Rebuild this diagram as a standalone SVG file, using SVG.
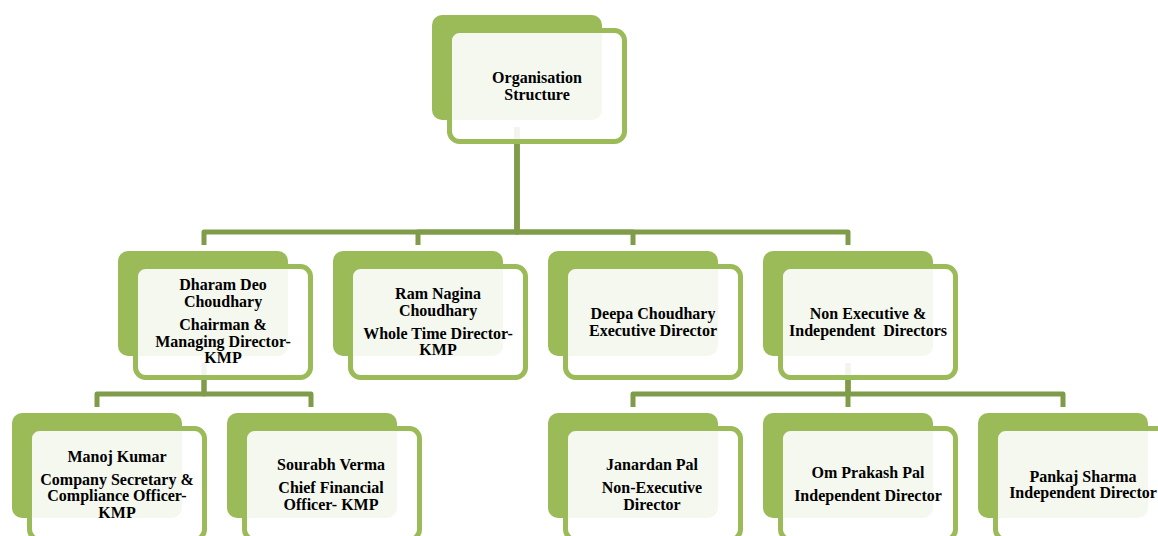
<svg xmlns="http://www.w3.org/2000/svg" width="1158" height="536" viewBox="0 0 1158 536">
<style>
.back{fill:#9bbb59}
.front{fill:#ffffff;fill-opacity:0.9;stroke:#9bbb59;stroke-width:5}
.conn{fill:none;stroke:#809c4a;stroke-width:5;stroke-linejoin:round}
text{font-family:"Liberation Serif","Times New Roman",serif;font-weight:bold;font-size:16px;fill:#000;text-anchor:middle;white-space:pre}
</style>
<rect width="1158" height="536" fill="#ffffff"/>
<g id="connectors">
<path class="conn" d="M517,127 V232 H204 V245"/>
<path class="conn" d="M517,127 V232 H418 V245"/>
<path class="conn" d="M517,127 V232 H633 V245"/>
<path class="conn" d="M517,127 V232 H848 V245"/>
<path class="conn" d="M204,363 V394 H97 V407"/>
<path class="conn" d="M204,363 V394 H311 V407"/>
<path class="conn" d="M848,363 V394 H633 V407"/>
<path class="conn" d="M848,363 V407"/>
<path class="conn" d="M848,363 V394 H1063 V407"/>
</g>
<g id="n-org">
<rect class="back" x="432" y="15" width="170" height="105" rx="10"/>
<rect class="front" x="449.5" y="30.5" width="175" height="111" rx="10"/>
<text x="537" y="83">Organisation</text>
<text x="537" y="100">Structure</text>
</g>
<g id="n-dharam">
<rect class="back" x="118" y="251" width="170" height="105" rx="10"/>
<rect class="front" x="135.5" y="266.5" width="175" height="111" rx="10"/>
<text x="223" y="290">Dharam Deo</text>
<text x="223" y="306.5">Choudhary</text>
<text x="223" y="330">Chairman &amp;</text>
<text x="223" y="346.5">Managing Director-</text>
<text x="223" y="363">KMP</text>
</g>
<g id="n-ram">
<rect class="back" x="333" y="251" width="170" height="105" rx="10"/>
<rect class="front" x="350.5" y="266.5" width="175" height="111" rx="10"/>
<text x="438" y="299">Ram Nagina</text>
<text x="438" y="315.5">Choudhary</text>
<text x="438" y="338.5">Whole Time Director-</text>
<text x="438" y="355">KMP</text>
</g>
<g id="n-deepa">
<rect class="back" x="548" y="251" width="170" height="105" rx="10"/>
<rect class="front" x="565.5" y="266.5" width="175" height="111" rx="10"/>
<text x="653" y="318.5">Deepa Choudhary</text>
<text x="653" y="336">Executive Director</text>
</g>
<g id="n-nonexec">
<rect class="back" x="763" y="251" width="170" height="105" rx="10"/>
<rect class="front" x="780.5" y="266.5" width="175" height="111" rx="10"/>
<text x="868" y="318.5">Non Executive &amp;</text>
<text x="868" y="336" xml:space="preserve">Independent  Directors</text>
</g>
<g id="n-manoj">
<rect class="back" x="12" y="413" width="170" height="105" rx="10"/>
<rect class="front" x="29.5" y="428.5" width="175" height="111" rx="10"/>
<text x="117" y="462">Manoj Kumar</text>
<text x="117" y="484.5">Company Secretary &amp;</text>
<text x="117" y="501">Compliance Officer-</text>
<text x="117" y="517.5">KMP</text>
</g>
<g id="n-sourabh">
<rect class="back" x="227" y="413" width="170" height="105" rx="10"/>
<rect class="front" x="244.5" y="428.5" width="175" height="111" rx="10"/>
<text x="331" y="470">Sourabh Verma</text>
<text x="331" y="493">Chief Financial</text>
<text x="331" y="509.5">Officer- KMP</text>
</g>
<g id="n-janardan">
<rect class="back" x="548" y="413" width="170" height="105" rx="10"/>
<rect class="front" x="565.5" y="428.5" width="175" height="111" rx="10"/>
<text x="652" y="470">Janardan Pal</text>
<text x="652" y="493">Non-Executive</text>
<text x="652" y="509.5">Director</text>
</g>
<g id="n-omprakash">
<rect class="back" x="763" y="413" width="170" height="105" rx="10"/>
<rect class="front" x="780.5" y="428.5" width="175" height="111" rx="10"/>
<text x="868" y="477.5">Om Prakash Pal</text>
<text x="868" y="501">Independent Director</text>
</g>
<g id="n-pankaj">
<rect class="back" x="978" y="413" width="170" height="105" rx="10"/>
<rect class="front" x="995.5" y="428.5" width="175" height="111" rx="10"/>
<text x="1083" y="482">Pankaj Sharma</text>
<text x="1083" y="498">Independent Director</text>
</g>
</svg>
